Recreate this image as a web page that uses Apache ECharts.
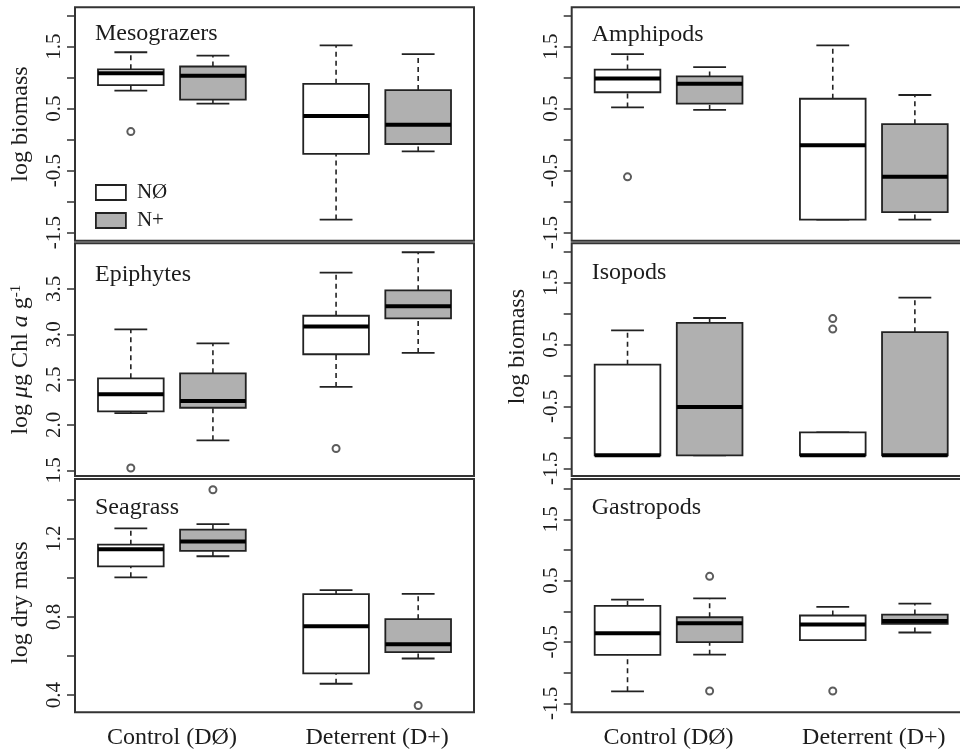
<!DOCTYPE html>
<html>
<head>
<meta charset="utf-8">
<script src="https://cdn.jsdelivr.net/npm/echarts@6/dist/echarts.min.js"></script>
<style>
  html, body { margin: 0; padding: 0; background: #fff; }
  #chart { width: 960px; height: 754px; }
</style>
</head>
<body>
<div id="chart"></div>
<script>
// Box positions on the shared x scale: Control NØ, Control N+, Deterrent NØ, Deterrent N+
const boxPositions = [1, 2, 3.5, 4.5];
const groupLabels = ['Control (DØ)', 'Deterrent (D+)'];
const groupLabelPositions = [1.5, 4];
const treatments = ['NØ', 'N+'];

// Each box: [lower whisker, Q1, median, Q3, upper whisker]
const mesograzersBoxes = [
  [0.79, 0.88, 1.07, 1.135, 1.41],
  [0.58, 0.645, 1.03, 1.18, 1.355],
  [-1.29, -0.23, 0.38, 0.90, 1.52],
  [-0.19, -0.07, 0.24, 0.80, 1.38]
];
// Outliers: [box index, value]
const mesograzersOutliers = [[0, 0.13]];

const amphipodsBoxes = [
  [0.52, 0.765, 0.985, 1.13, 1.38],
  [0.48, 0.58, 0.90, 1.02, 1.17],
  [-1.29, -1.29, -0.09, 0.66, 1.52],
  [-1.29, -1.17, -0.60, 0.25, 0.72]
];
const amphipodsOutliers = [[0, -0.60]];

const epiphytesBoxes = [
  [2.13, 2.15, 2.34, 2.515, 3.055],
  [1.83, 2.19, 2.265, 2.57, 2.90],
  [2.42, 2.78, 3.085, 3.205, 3.68],
  [2.795, 3.175, 3.31, 3.485, 3.905]
];
const epiphytesOutliers = [[0, 1.525], [2, 1.74]];

const isopodsBoxes = [
  [-1.29, -1.29, -1.29, 0.175, 0.73],
  [-1.29, -1.29, -0.51, 0.85, 0.93],
  [-1.29, -1.29, -1.29, -0.92, -0.92],
  [-1.29, -1.29, -1.29, 0.70, 1.26]
];
const isopodsOutliers = [[2, 0.92], [2, 0.75]];

const seagrassBoxes = [
  [1.002, 1.058, 1.146, 1.169, 1.253],
  [1.11, 1.137, 1.185, 1.246, 1.274],
  [0.458, 0.511, 0.752, 0.916, 0.937],
  [0.587, 0.62, 0.66, 0.788, 0.918]
];
const seagrassOutliers = [[1, 1.45], [3, 0.347]];

const gastropodsBoxes = [
  [-1.305, -0.71, -0.36, 0.088, 0.19],
  [-0.708, -0.503, -0.195, -0.097, 0.21],
  [-0.47, -0.47, -0.215, -0.069, 0.072],
  [-0.346, -0.205, -0.16, -0.053, 0.126]
];
const gastropodsOutliers = [[1, 0.57], [1, -1.30], [2, -1.30]];

// Axis tick and label values
const biomassTicks = [-1.5, -1, -0.5, 0, 0.5, 1, 1.5, 2];
const biomassLabels = [-1.5, -0.5, 0.5, 1.5];
const chlTicks = [1.5, 2, 2.5, 3, 3.5];
const chlLabels = [1.5, 2, 2.5, 3, 3.5];
const dryMassTicks = [0.4, 0.6, 0.8, 1.0, 1.2, 1.4];
const dryMassLabels = [0.4, 0.8, 1.2];

// ---- layout and styling ----
const FONT = 'Liberation Serif';
const INK = '#1c1c1c';
const FILLS = ['#ffffff', '#b0b0b0'];
const colLeft = [75, 571.7];
const colWidth = 399;
const rowTop = [7.3, 243.3, 479];
const rowHeight = [233.4, 232.7, 233.3];
const X_MIN = 0.32, X_MAX = 5.18;

const panels = [
  { title: 'Mesograzers', boxes: mesograzersBoxes, outliers: mesograzersOutliers, col: 0, row: 0,
    yMin: -1.63, yMax: 2.135, ticks: biomassTicks, labels: biomassLabels,
    yName: 'log biomass', namePad: [0, 0, 0, 0], titleTop: 21.5 },
  { title: 'Epiphytes', boxes: epiphytesBoxes, outliers: epiphytesOutliers, col: 0, row: 1,
    yMin: 1.437, yMax: 4.004, ticks: chlTicks, labels: chlLabels,
    yName: '{n|log }{i|μ}{n|g Chl }{i|a}{n| g}{s|-1}', namePad: [0, 0, 0, 0], titleTop: 263 },
  { title: 'Seagrass', boxes: seagrassBoxes, outliers: seagrassOutliers, col: 0, row: 2,
    yMin: 0.312, yMax: 1.505, ticks: dryMassTicks, labels: dryMassLabels,
    yName: 'log dry mass', namePad: [0, 14, 0, 0], titleTop: 495.5 },
  { title: 'Amphipods', boxes: amphipodsBoxes, outliers: amphipodsOutliers, col: 1, row: 0,
    yMin: -1.63, yMax: 2.135, ticks: biomassTicks, labels: biomassLabels,
    yName: '', namePad: [0, 0, 0, 0], titleTop: 23 },
  { title: 'Isopods', boxes: isopodsBoxes, outliers: isopodsOutliers, col: 1, row: 1,
    yMin: -1.624, yMax: 2.137, ticks: biomassTicks, labels: biomassLabels,
    yName: 'log biomass', namePad: [0, 0, 0, 26], titleTop: 261 },
  { title: 'Gastropods', boxes: gastropodsBoxes, outliers: gastropodsOutliers, col: 1, row: 2,
    yMin: -1.647, yMax: 2.157, ticks: biomassTicks, labels: biomassLabels,
    yName: '', namePad: [0, 0, 0, 0], titleTop: 495.5 }
];

// Draws one R-style box: dashed whiskers, staples, filled box, heavy median bar
function makeBoxRenderer(fill) {
  return function (params, api) {
    const x = api.value(0);
    const lo = api.value(1), q1 = api.value(2), med = api.value(3), q3 = api.value(4), hi = api.value(5);
    const c = (a, b) => api.coord([a, b]);
    const halfBox = 0.4, halfCap = 0.2;
    const seg = (p1, p2, style) => ({ type: 'line', shape: { x1: p1[0], y1: p1[1], x2: p2[0], y2: p2[1] }, style });
    const dashed = { stroke: '#222', lineWidth: 1.6, lineDash: [5, 4] };
    const solid = { stroke: '#222', lineWidth: 1.8 };
    const children = [];
    if (hi > q3) children.push(seg(c(x, q3), c(x, hi), dashed));
    if (lo < q1) children.push(seg(c(x, lo), c(x, q1), dashed));
    children.push(seg(c(x - halfCap, hi), c(x + halfCap, hi), solid));
    children.push(seg(c(x - halfCap, lo), c(x + halfCap, lo), solid));
    const tl = c(x - halfBox, q3), br = c(x + halfBox, q1);
    children.push({ type: 'rect', shape: { x: tl[0], y: tl[1], width: br[0] - tl[0], height: br[1] - tl[1] },
      style: { fill, stroke: '#222', lineWidth: 1.8 } });
    children.push(seg(c(x - halfBox, med), c(x + halfBox, med), { stroke: '#000', lineWidth: 4 }));
    return { type: 'group', children };
  };
}

const grids = [], xAxes = [], yAxes = [], series = [], titles = [];

panels.forEach((p, i) => {
  const bottomRow = p.row === 2;
  grids.push({
    left: colLeft[p.col], top: rowTop[p.row], width: colWidth, height: rowHeight[p.row],
    show: true, borderColor: '#333', borderWidth: 2, backgroundColor: 'transparent',
    containLabel: false, outerBoundsMode: 'none'
  });
  xAxes.push({
    gridIndex: i, type: 'value', min: X_MIN, max: X_MAX,
    axisLine: { show: false }, axisTick: { show: false }, splitLine: { show: false },
    axisLabel: bottomRow ? {
      customValues: groupLabelPositions,
      formatter: v => groupLabels[groupLabelPositions.indexOf(v)],
      fontFamily: FONT, fontSize: 24, color: INK, margin: 13
    } : { show: false }
  });
  yAxes.push({
    gridIndex: i, type: 'value', min: p.yMin, max: p.yMax,
    axisLine: { show: false }, splitLine: { show: false },
    axisTick: { show: true, length: 8, customValues: p.ticks, lineStyle: { color: '#333', width: 1.5 } },
    axisLabel: {
      customValues: p.labels, rotate: 90, margin: 10,
      formatter: v => Number(v).toFixed(1),
      fontFamily: FONT, fontSize: 21, color: INK
    },
    name: p.yName, nameLocation: 'middle', nameGap: 42,
    nameTextStyle: {
      fontFamily: FONT, fontSize: 24, color: INK, padding: p.namePad,
      rich: {
        n: { fontFamily: FONT, fontSize: 24, color: INK },
        i: { fontFamily: FONT, fontSize: 24, color: INK, fontStyle: 'italic' },
        s: { fontFamily: FONT, fontSize: 15, color: INK, verticalAlign: 'top', padding: [0, 0, 9, 0] }
      }
    }
  });
  treatments.forEach((t, ti) => {
    series.push({
      type: 'custom', name: t, xAxisIndex: i, yAxisIndex: i,
      renderItem: makeBoxRenderer(FILLS[ti]),
      encode: { x: 0, y: [1, 2, 3, 4, 5] },
      itemStyle: { color: FILLS[ti] },
      data: [ti, ti + 2].map(k => [boxPositions[k], ...p.boxes[k]]),
      silent: true, animation: false
    });
  });
  series.push({
    type: 'scatter', name: 'outliers', xAxisIndex: i, yAxisIndex: i,
    symbol: 'emptyCircle', symbolSize: 7,
    itemStyle: { color: '#333', borderWidth: 1.3 },
    data: p.outliers.map(([k, v]) => [boxPositions[k], v]),
    silent: true, animation: false, z: 3
  });
  titles.push({
    text: p.title, left: colLeft[p.col] + 20, top: p.titleTop, padding: 0,
    textStyle: { fontFamily: FONT, fontSize: 24, fontWeight: 'normal', color: INK }
  });
});

const chart = echarts.init(document.getElementById('chart'), null, { renderer: 'canvas' });
chart.setOption({
  animation: false,
  backgroundColor: '#fff',
  title: titles,
  legend: {
    left: 95, top: 182, orient: 'vertical', padding: 0,
    itemWidth: 30, itemHeight: 15, itemGap: 7, icon: 'rect', selectedMode: false,
    data: treatments.map((t, ti) => ({ name: t, itemStyle: { color: FILLS[ti], borderColor: '#222', borderWidth: 1.8 } })),
    textStyle: { fontFamily: FONT, fontSize: 21, color: INK, lineHeight: 16, padding: [0, 0, 0, 6] }
  },
  grid: grids,
  xAxis: xAxes,
  yAxis: yAxes,
  series
});
</script>
</body>
</html>
